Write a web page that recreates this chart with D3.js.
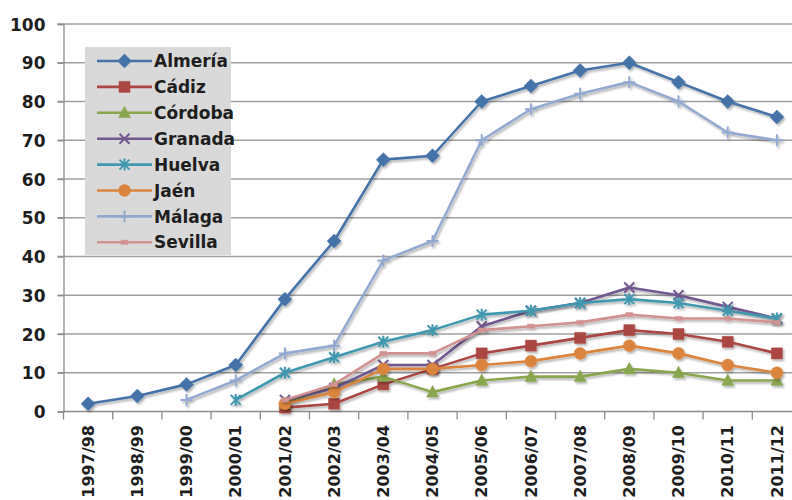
<!DOCTYPE html>
<html>
<head>
<meta charset="utf-8">
<script src="https://cdn.jsdelivr.net/npm/d3@7"></script>
<style>
  html, body { margin: 0; padding: 0; background: #fff; }
  svg { display: block; }
  text { font-family: "DejaVu Sans", sans-serif; font-weight: bold; font-size: 17px; fill: #1e1e1e; }
</style>
</head>
<body>
<svg id="chart" width="792" height="500"></svg>
<script>
// Academic years on the category axis
const categories = ["1997/98","1998/99","1999/00","2000/01","2001/02","2002/03","2003/04",
  "2004/05","2005/06","2006/07","2007/08","2008/09","2009/10","2010/11","2011/12"];

// One series per province (null = no data that year)
const almeria = [2, 4, 7, 12, 29, 44, 65, 66, 80, 84, 88, 90, 85, 80, 76];
const cadiz   = [null, null, null, null, 1, 2, 7, 11, 15, 17, 19, 21, 20, 18, 15];
const cordoba = [null, null, null, null, 2, 7, 9, 5, 8, 9, 9, 11, 10, 8, 8];
const granada = [null, null, null, null, 3, 6, 12, 12, 22, 26, 28, 32, 30, 27, 24];
const huelva  = [null, null, null, 3, 10, 14, 18, 21, 25, 26, 28, 29, 28, 26, 24];
const jaen    = [null, null, null, null, 2, 5, 11, 11, 12, 13, 15, 17, 15, 12, 10];
const malaga  = [null, null, 3, 8, 15, 17, 39, 44, 70, 78, 82, 85, 80, 72, 70];
const sevilla = [null, null, null, null, 3, 7, 15, 15, 21, 22, 23, 25, 24, 24, 23];

const seriesNames = ["Almería", "Cádiz", "Córdoba", "Granada", "Huelva", "Jaén", "Málaga", "Sevilla"];
const seriesValues = [almeria, cadiz, cordoba, granada, huelva, jaen, malaga, sevilla];
const yTicks = [0, 10, 20, 30, 40, 50, 60, 70, 80, 90, 100];

const colors = ["#4572A7", "#AA4643", "#89A54E", "#71588F", "#4198AF", "#DB843D", "#93A9CF", "#D19392"];

// Marker shapes (size argument = half-extent in px)
const mk = {
  diamond: { draw(c, r) { c.moveTo(0, -r); c.lineTo(r, 0); c.lineTo(0, r); c.lineTo(-r, 0); c.closePath(); } },
  square:  { draw(c, r) { c.rect(-r, -r, 2 * r, 2 * r); } },
  triangle:{ draw(c, r) { c.moveTo(0, -r * 1.1); c.lineTo(r, r * 0.8); c.lineTo(-r, r * 0.8); c.closePath(); } },
  cross:   { draw(c, r) { c.moveTo(-r, -r); c.lineTo(r, r); c.moveTo(r, -r); c.lineTo(-r, r); } },
  star:    { draw(c, r) { c.moveTo(-r, -r); c.lineTo(r, r); c.moveTo(r, -r); c.lineTo(-r, r); c.moveTo(0, -r * 1.2); c.lineTo(0, r * 1.2); } },
  circle:  { draw(c, r) { c.moveTo(r, 0); c.arc(0, 0, r, 0, 2 * Math.PI); } },
  plus:    { draw(c, r) { c.moveTo(-r, 0); c.lineTo(r, 0); c.moveTo(0, -r); c.lineTo(0, r); } },
  dash:    { draw(c, r) { c.rect(-r, -r * 0.6, 2 * r, 1.2 * r); } }
};
const markerDefs = [
  { type: mk.diamond,  r: 7,   filled: true },
  { type: mk.square,   r: 5.5, filled: true },
  { type: mk.triangle, r: 6,   filled: true },
  { type: mk.cross,    r: 5,   filled: false },
  { type: mk.star,     r: 5,   filled: false },
  { type: mk.circle,   r: 6,   filled: true },
  { type: mk.plus,     r: 6,   filled: false },
  { type: mk.dash,     r: 3.5, filled: true }
];

const svg = d3.select("#chart");
const plot = { left: 63.5, right: 801.5, top: 24, bottom: 411.5 };

const x = d3.scaleBand().domain(categories).range([plot.left, plot.right]).padding(0);
const y = d3.scaleLinear().domain([0, 100]).range([plot.bottom, plot.top]);
const cx = d => x(d) + x.bandwidth() / 2;

const defs = svg.append("defs");
const f = defs.append("filter").attr("id", "shadow").attr("x", "-20%").attr("y", "-20%").attr("width", "140%").attr("height", "140%");
f.append("feDropShadow").attr("dx", 1.5).attr("dy", 2).attr("stdDeviation", 1.3)
  .attr("flood-color", "#000").attr("flood-opacity", 0.3);

// Horizontal gridlines
svg.append("g").selectAll("line").data(yTicks.filter(v => v > 0)).join("line")
  .attr("x1", plot.left - 6).attr("x2", plot.right)
  .attr("y1", d => y(d)).attr("y2", d => y(d))
  .attr("stroke", "#a0a0a0").attr("stroke-width", 1.3);

// Y axis
const yAxis = svg.append("g").attr("transform", `translate(${plot.left},0)`)
  .call(d3.axisLeft(y).tickValues(yTicks).tickSize(6).tickPadding(12));
yAxis.select(".domain").attr("stroke", "#8c8c8c").attr("stroke-width", 1.3);
yAxis.selectAll(".tick line").attr("stroke", "#8c8c8c").attr("stroke-width", 1.3);
yAxis.selectAll(".tick text").attr("font-size", null).attr("font-family", null).attr("dy", "0.36em");

// X axis: baseline, ticks between categories, rotated labels
svg.append("line").attr("x1", plot.left).attr("x2", plot.right)
  .attr("y1", plot.bottom).attr("y2", plot.bottom).attr("stroke", "#8c8c8c").attr("stroke-width", 1.3);
svg.append("g").selectAll("line").data(categories.concat(["end"])).join("line")
  .attr("x1", (d, i) => plot.left + i * x.bandwidth()).attr("x2", (d, i) => plot.left + i * x.bandwidth())
  .attr("y1", plot.bottom).attr("y2", plot.bottom + 8)
  .attr("stroke", "#8c8c8c").attr("stroke-width", 1.3);
svg.append("g").selectAll("text").data(categories).join("text")
  .attr("transform", d => `translate(${cx(d)},425) rotate(-90)`)
  .attr("text-anchor", "end").attr("dy", "0.36em")
  .style("font-size", "16px")
  .text(d => d);

// Series lines and markers
const line = d3.line().defined(d => d.v != null).x(d => cx(d.c)).y(d => y(d.v));
seriesNames.forEach((name, si) => {
  const pts = categories.map((c, i) => ({ c, v: seriesValues[si][i] }));
  const g = svg.append("g").attr("filter", "url(#shadow)");
  g.append("path").datum(pts).attr("d", line)
    .attr("fill", "none").attr("stroke", colors[si]).attr("stroke-width", 2.6).attr("stroke-linejoin", "round");
  const m = markerDefs[si];
  g.selectAll("path.m").data(pts.filter(d => d.v != null)).join("path").attr("class", "m")
    .attr("transform", d => `translate(${cx(d.c)},${y(d.v)})`)
    .attr("d", d3.symbol(m.type, m.r)())
    .attr("fill", m.filled ? colors[si] : "none")
    .attr("stroke", colors[si]).attr("stroke-width", m.filled ? 0.5 : 2);
});

// Legend
const lg = svg.append("g");
lg.append("rect").attr("x", 85).attr("y", 47).attr("width", 146).attr("height", 208).attr("fill", "#d9d9d9");
seriesNames.forEach((name, si) => {
  const ly = 61 + si * 25.9;
  const m = markerDefs[si];
  lg.append("line").attr("x1", 97).attr("x2", 152).attr("y1", ly).attr("y2", ly)
    .attr("stroke", colors[si]).attr("stroke-width", 2.6);
  lg.append("path").attr("transform", `translate(124.5,${ly})`)
    .attr("d", d3.symbol(m.type, m.r)())
    .attr("fill", m.filled ? colors[si] : "none")
    .attr("stroke", colors[si]).attr("stroke-width", m.filled ? 0.5 : 2);
  lg.append("text").attr("x", 154).attr("y", ly).attr("dy", "0.36em").text(name);
});
</script>
</body>
</html>
